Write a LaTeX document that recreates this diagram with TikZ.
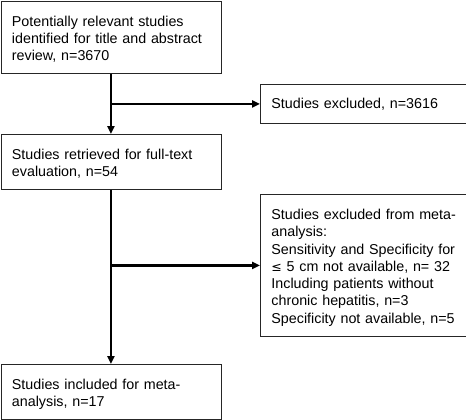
\documentclass[tikz,border=0pt]{standalone}
\usepackage{fontspec}
\setmainfont{Liberation Sans}
\newfontfamily\symfont{DejaVu Sans}
\usetikzlibrary{arrows.meta}
\newcommand\boxtext[1]{\begin{tabular}{@{}l@{}}\rule{0pt}{17pt}#1\end{tabular}}
\begin{document}
\begin{tikzpicture}[x=1pt,y=-1pt,
  box/.style={draw=black!85, line width=0.9pt, anchor=north west, align=left,
    inner xsep=11pt, inner ysep=0pt, text width=#1, font=\fontsize{14.3}{17.3}\selectfont},
  arr/.style={line width=2.2pt, -{Triangle[length=8pt,width=7pt]}}]
\useasboundingbox (0,0) rectangle (466,420);
\node[box=198pt, minimum height=72pt] (b1) at (0.5,1) {\boxtext{Potentially relevant studies\\identified for title and abstract\\review, n=3670}};
\node[box=183.5pt, minimum height=39pt] (x1) at (260,84) {Studies excluded, n=3616};
\node[box=198pt, minimum height=55pt] (b2) at (0.5,134) {\boxtext{Studies retrieved for full-text\\evaluation, n=54}};
\node[box=183.5pt, minimum height=142pt] (x2) at (260,194) {\boxtext{Studies excluded from meta-\\analysis:\\Sensitivity and Specificity for\\{\symfont\fontsize{12.5}{17.3}\selectfont ≤} 5 cm not available, n= 32\\Including patients without\\chronic hepatitis, n=3\\Specificity not available, n=5}};
\node[box=198pt, minimum height=55pt] (b4) at (0.5,364) {\boxtext{Studies included for meta-\\analysis, n=17}};
\draw[arr] (b1.south) -- (b2.north);
\draw[arr] (b1.south |- x1.west) -- (x1.west);
\draw[arr] (b2.south) -- (b4.north);
\draw[arr] (b2.south |- x2.west) -- (x2.west);
\end{tikzpicture}
\end{document}
